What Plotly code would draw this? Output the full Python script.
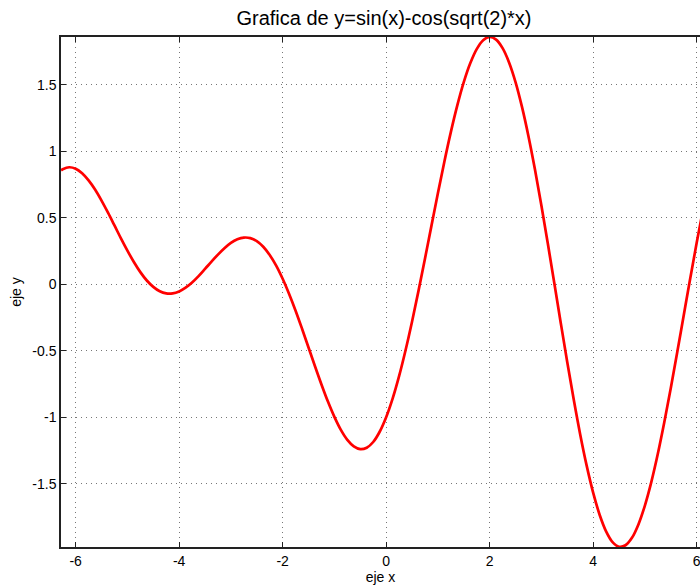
import plotly.graph_objects as go

# Sample points (x, y)
x_vals = [-6.2832, -6.25, -6.125, -6.0, -5.875, -5.75, -5.625, -5.5, -5.375, -5.25,
          -5.125, -5.0, -4.875, -4.75, -4.625, -4.5, -4.375, -4.25, -4.125, -4.0,
          -3.875, -3.75, -3.625, -3.5, -3.375, -3.25, -3.125, -3.0, -2.875, -2.75,
          -2.625, -2.5, -2.375, -2.25, -2.125, -2.0, -1.875, -1.75, -1.625, -1.5,
          -1.375, -1.25, -1.125, -1.0, -0.875, -0.75, -0.625, -0.5, -0.375, -0.25,
          -0.125, 0.0, 0.125, 0.25, 0.375, 0.5, 0.625, 0.75, 0.875, 1.0,
          1.125, 1.25, 1.375, 1.5, 1.625, 1.75, 1.875, 2.0, 2.125, 2.25,
          2.375, 2.5, 2.625, 2.75, 2.875, 3.0, 3.125, 3.25, 3.375, 3.5,
          3.625, 3.75, 3.875, 4.0, 4.125, 4.25, 4.375, 4.5, 4.625, 4.75,
          4.875, 5.0, 5.125, 5.25, 5.375, 5.5, 5.625, 5.75, 5.875, 6.0,
          6.125, 6.25, 6.2832]
y_vals = [0.858, 0.866, 0.881, 0.870, 0.836, 0.782, 0.713, 0.630, 0.539, 0.443,
          0.346, 0.254, 0.168, 0.092, 0.029, -0.019, -0.052, -0.068, -0.068, -0.053,
          -0.025, 0.014, 0.062, 0.116, 0.171, 0.224, 0.272, 0.312, 0.339, 0.352,
          0.348, 0.325, 0.283, 0.221, 0.141, 0.042, -0.072, -0.198, -0.334, -0.475,
          -0.616, -0.753, -0.882, -0.997, -1.095, -1.170, -1.219, -1.240, -1.229, -1.186,
          -1.109, -1.000, -0.860, -0.691, -0.496, -0.281, -0.049, 0.193, 0.440, 0.686,
          0.923, 1.145, 1.346, 1.521, 1.663, 1.770, 1.837, 1.861, 1.841, 1.777,
          1.670, 1.522, 1.335, 1.115, 0.866, 0.594, 0.305, 0.008, -0.292, -0.586,
          -0.867, -1.129, -1.364, -1.567, -1.733, -1.858, -1.939, -1.974, -1.963, -1.907,
          -1.806, -1.664, -1.486, -1.275, -1.038, -0.781, -0.511, -0.234, 0.042, 0.311,
          0.566, 0.800, 0.858]

x_ticks = [-6, -4, -2, 0, 2, 4, 6]
y_ticks = [-1.5, -1, -0.5, 0, 0.5, 1, 1.5]
y_tick_text = ["-1.5", "-1", "-0.5", "0", "0.5", "1", "1.5"]

title_text = "Grafica de y=sin(x)-cos(sqrt(2)*x)"
x_label = "eje x"
y_label = "eje y"

FONT = "Liberation Sans, Arial, sans-serif"

fig = go.Figure()
fig.add_trace(go.Scatter(
    x=x_vals, y=y_vals, mode="lines",
    line=dict(color="#ff0000", width=2.7, shape="spline", smoothing=1.0),
    showlegend=False, hoverinfo="skip",
))

axis_common = dict(
    showline=True, linecolor="#222222", linewidth=1.5,
    ticks="inside", ticklen=5, tickwidth=1, tickcolor="#222222",
    showgrid=True, gridcolor="#777777", gridwidth=1, griddash="1px,4px",
    zeroline=False, ticklabeloverflow="allow",
    tickfont=dict(family=FONT, size=14, color="#000000"),
)

fig.update_xaxes(
    range=[-6.2832, 6.065], tickvals=x_ticks, ticktext=[str(v) for v in x_ticks],
    mirror="ticks",
    title=dict(text=x_label, standoff=3,
               font=dict(family=FONT, size=14, color="#000")),
    **axis_common,
)
fig.update_yaxes(
    range=[-1.976, 1.861], tickvals=y_ticks, ticktext=y_tick_text,
    mirror=False,
    title=dict(text=y_label, standoff=7,
               font=dict(family=FONT, size=14, color="#000")),
    **axis_common,
)

fig.update_layout(
    width=700, height=588,
    margin=dict(l=61, r=0, t=37, b=41),
    paper_bgcolor="white", plot_bgcolor="white",
    title=dict(text=title_text, x=384 / 700, xanchor="center",
               y=1 - 18 / 588, yanchor="middle",
               font=dict(family=FONT, size=20, color="#000")),
)

fig.write_html("out.html")
